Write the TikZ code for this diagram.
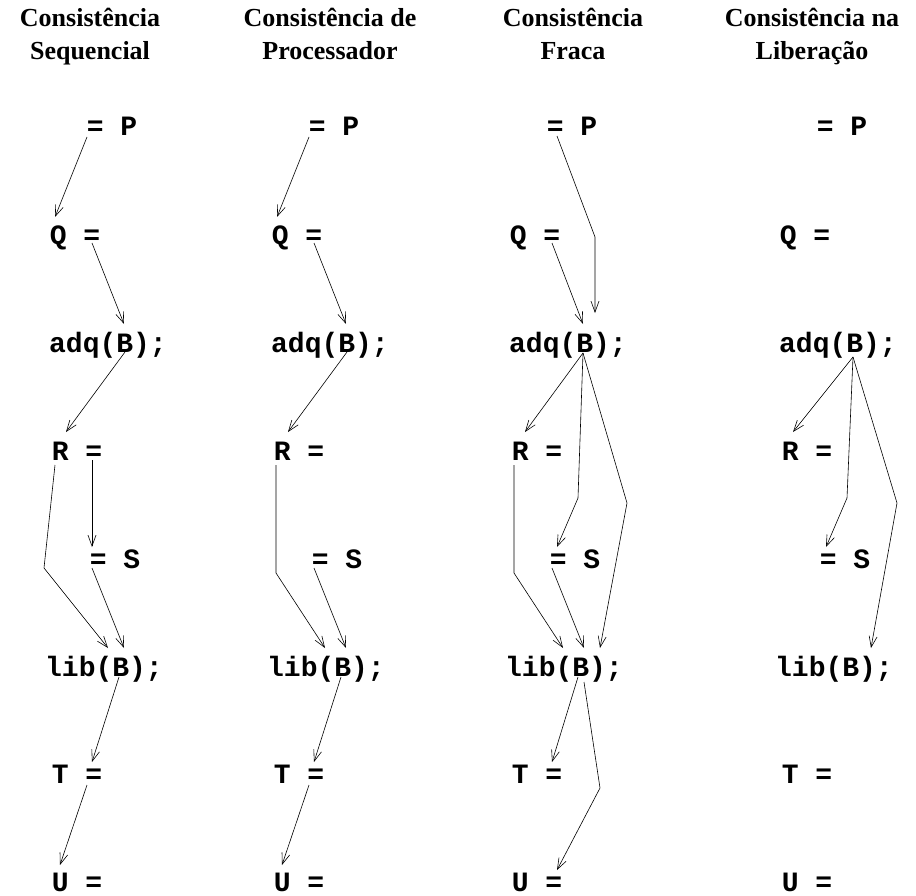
\documentclass[tikz,border=0pt]{standalone}
\usepackage{fontspec}
\setmainfont{Liberation Serif}
\setmonofont{Liberation Mono}
\usetikzlibrary{arrows.meta,calc}
\begin{document}
\begin{tikzpicture}[x=1pt,y=-1pt,
    stmt/.style={anchor=base,inner sep=0pt,font=\ttfamily\bfseries\fontsize{28}{28}\selectfont},
    title/.style={anchor=base,align=center,inner sep=0pt,font=\bfseries\fontsize{26}{33}\selectfont},
    dep/.style={-{Straight Barb[length=11pt,width=8pt]},line width=0.6pt}]
  \useasboundingbox (0,0) rectangle (916,896);
  % Column titles
  \foreach \c/\x/\txt in {1/90/{Consistência\\Sequencial}, 2/330/{Consistência de\\Processador},
                          3/573/{Consistência\\Fraca}, 4/812/{Consistência na\\Liberação}}
    \node[title] (head\c) at (\x,60) {\txt};
  % Program statements, one column per model
  \foreach \c/\dx in {1/0, 2/222, 3/460, 4/730}{
    \node[stmt] (P\c)   at (112+\dx,136) {= P};
    \node[stmt] (Q\c)   at (75+\dx,244)  {Q =};
    \node[stmt] (adq\c) at (108+\dx,352) {adq(B);};
    \node[stmt] (R\c)   at (77+\dx,460)  {R =};
    \node[stmt] (S\c)   at (115+\dx,568) {= S};
    \node[stmt] (lib\c) at (104+\dx,676) {lib(B);};
    \node[stmt] (T\c)   at (77+\dx,783)  {T =};
    \node[stmt] (U\c)   at (77+\dx,891)  {U =};
  }
  % Orderings shared by sequential and processor consistency
  \foreach \c in {1,2}{
    \draw[dep] ($(P\c.base)+(-25,1)$) -- ($(Q\c.base)+(-20,-27)$);
    \draw[dep] ($(Q\c.base)+(17,-1)$) -- ($(adq\c.base)+(16,-28)$);
    \draw[dep] ($(adq\c.base)+(17,0)$) -- ($(R\c.base)+(-11,-28)$);
    \draw[dep] ($(S\c.base)+(-23,0)$) -- ($(lib\c.base)+(20,-28)$);
    \draw[dep] ($(lib\c.base)+(15,1)$) -- ($(T\c.base)+(15,-21)$);
    \draw[dep] ($(T\c.base)+(10,2)$) -- ($(U\c.base)+(-17,-26)$);
  }
  % Sequential
  \draw[dep] ($(R1.base)+(15,0)$) -- ($(S1.base)+(-23,-21)$);
  \draw[dep] ($(R1.base)+(-22,5)$) -- ($(S1.base)+(-71,0)$) -- ($(lib1.base)+(4,-28)$);
  % Processor
  \draw[dep] ($(R2.base)+(-23,5)$) -- ($(R2.base)+(-23,113)$) -- ($(lib2.base)+(-1,-28)$);
  % Weak
  \draw[dep] ($(P3.base)+(-15,0)$) -- ($(adq3.base)+(27,-115)$) -- ($(adq3.base)+(27,-39)$);
  \draw[dep] ($(Q3.base)+(17,-1)$) -- ($(adq3.base)+(15,-28)$);
  \draw[dep] ($(adq3.base)+(15,1)$) -- ($(R3.base)+(-12,-28)$);
  \draw[dep] ($(adq3.base)+(15,1)$) -- ($(S3.base)+(3,-70)$) -- ($(S3.base)+(-18,-21)$);
  \draw[dep] ($(adq3.base)+(15,1)$) -- ($(adq3.base)+(59,151)$) -- ($(lib3.base)+(36,-28)$);
  \draw[dep] ($(R3.base)+(-23,5)$) -- ($(R3.base)+(-23,113)$) -- ($(lib3.base)+(-1,-28)$);
  \draw[dep] ($(S3.base)+(-23,0)$) -- ($(lib3.base)+(20,-28)$);
  \draw[dep] ($(lib3.base)+(14,1)$) -- ($(T3.base)+(15,-21)$);
  \draw[dep] ($(lib3.base)+(20,6)$) -- ($(lib3.base)+(36,112)$) -- ($(U3.base)+(20,-21)$);
  % Release
  \draw[dep] ($(adq4.base)+(15,5)$) -- ($(R4.base)+(-14,-28)$);
  \draw[dep] ($(adq4.base)+(15,5)$) -- ($(S4.base)+(2,-70)$) -- ($(S4.base)+(-19,-21)$);
  \draw[dep] ($(adq4.base)+(15,5)$) -- ($(adq4.base)+(59,151)$) -- ($(lib4.base)+(37,-28)$);
\end{tikzpicture}
\end{document}
